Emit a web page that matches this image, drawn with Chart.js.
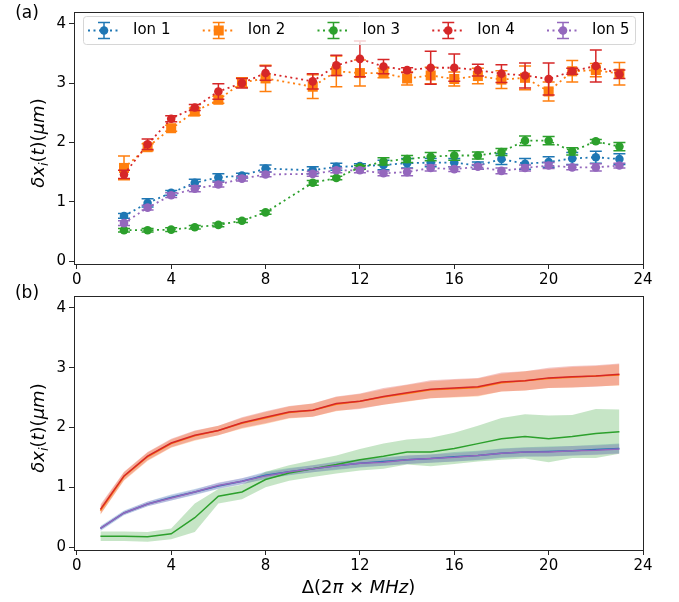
<!DOCTYPE html>
<html>
<head>
<meta charset="utf-8">
<script src="https://cdn.jsdelivr.net/npm/chart.js@4"></script>
<style>
  body { margin: 0; background: #fff; }
  #wrap { position: relative; width: 679px; height: 602px; }
  canvas { position: absolute; left: 0; }
  #chartTop { top: 0; }
  #chartBottom { top: 270px; }
</style>
</head>
<body>
<div id="wrap">
  <canvas id="chartTop" width="679" height="290"></canvas>
  <canvas id="chartBottom" width="679" height="332"></canvas>
</div>
<script>
'use strict';

////////////////////////////
/// data
const ionLabels = ['Ion 1', 'Ion 2', 'Ion 3', 'Ion 4', 'Ion 5'];
const ionColors = ['#1f77b4', '#ff7f0e', '#2ca02c', '#d62728', '#9467bd'];
const xTicks = [0, 4, 8, 12, 16, 20, 24];
const yTicks = [0, 1, 2, 3, 4];

/// (a) measured, with error bars
const measuredX = [2, 3, 4, 5, 6, 7, 8, 10, 11, 12, 13, 14, 15, 16, 17, 18, 19, 20, 21, 22, 23];
const ion1Meas = [0.76, 0.98, 1.15, 1.32, 1.41, 1.44, 1.56, 1.53, 1.59, 1.6, 1.62, 1.65, 1.66, 1.66, 1.61, 1.72, 1.64, 1.67, 1.73, 1.75, 1.72];
const ion1Err = [0.04, 0.07, 0.04, 0.06, 0.06, 0.04, 0.06, 0.06, 0.06, 0.04, 0.08, 0.08, 0.07, 0.07, 0.06, 0.09, 0.09, 0.09, 0.1, 0.1, 0.09];
const ion2Meas = [1.57, 1.92, 2.24, 2.52, 2.72, 3.01, 3.08, 2.94, 3.2, 3.17, 3.17, 3.08, 3.13, 3.07, 3.12, 3.06, 3.09, 2.86, 3.2, 3.22, 3.16];
const ion2Err = [0.2, 0.06, 0.05, 0.06, 0.06, 0.08, 0.22, 0.2, 0.26, 0.22, 0.08, 0.11, 0.14, 0.12, 0.13, 0.15, 0.2, 0.16, 0.18, 0.11, 0.19];
const ion3Meas = [0.52, 0.52, 0.53, 0.57, 0.61, 0.68, 0.82, 1.32, 1.4, 1.58, 1.68, 1.72, 1.76, 1.78, 1.78, 1.84, 2.03, 2.03, 1.85, 2.02, 1.93];
const ion3Err = [0.03, 0.03, 0.03, 0.03, 0.03, 0.03, 0.03, 0.04, 0.03, 0.03, 0.06, 0.06, 0.07, 0.08, 0.06, 0.06, 0.08, 0.07, 0.06, 0.03, 0.07];
const ion4Meas = [1.46, 1.97, 2.4, 2.59, 2.86, 3.0, 3.17, 3.03, 3.3, 3.41, 3.28, 3.22, 3.26, 3.26, 3.22, 3.16, 3.13, 3.07, 3.2, 3.29, 3.15];
const ion4Err = [0.07, 0.09, 0.05, 0.05, 0.13, 0.08, 0.12, 0.13, 0.17, 0.3, 0.12, 0.04, 0.28, 0.23, 0.1, 0.15, 0.21, 0.27, 0.05, 0.27, 0.07];
const ion5Meas = [0.64, 0.9, 1.11, 1.22, 1.29, 1.39, 1.46, 1.47, 1.53, 1.53, 1.48, 1.5, 1.57, 1.55, 1.59, 1.52, 1.57, 1.61, 1.58, 1.58, 1.61];
const ion5Err = [0.04, 0.04, 0.04, 0.05, 0.04, 0.04, 0.04, 0.04, 0.04, 0.04, 0.04, 0.06, 0.05, 0.04, 0.04, 0.05, 0.05, 0.05, 0.04, 0.06, 0.04];

/// (b) simulated, mean with spread
const simX = [1, 2, 3, 4, 5, 6, 7, 8, 9, 10, 11, 12, 13, 14, 15, 16, 17, 18, 19, 20, 21, 22, 23];
const ion1Sim = [0.31, 0.57, 0.72, 0.83, 0.92, 1.02, 1.1, 1.2, 1.26, 1.31, 1.36, 1.4, 1.43, 1.46, 1.48, 1.51, 1.53, 1.57, 1.59, 1.6, 1.61, 1.63, 1.65];
const ion1Spread = [0.04, 0.04, 0.04, 0.05, 0.05, 0.05, 0.05, 0.06, 0.06, 0.06, 0.07, 0.07, 0.07, 0.07, 0.07, 0.08, 0.08, 0.08, 0.08, 0.08, 0.08, 0.08, 0.08];
const ion2Sim = [0.61, 1.18, 1.51, 1.73, 1.86, 1.95, 2.07, 2.16, 2.25, 2.29, 2.39, 2.44, 2.51, 2.57, 2.63, 2.65, 2.67, 2.75, 2.78, 2.82, 2.84, 2.86, 2.88];
const ion2Spread = [0.07, 0.07, 0.07, 0.07, 0.08, 0.08, 0.09, 0.1, 0.1, 0.11, 0.12, 0.12, 0.13, 0.14, 0.14, 0.15, 0.15, 0.15, 0.16, 0.16, 0.17, 0.17, 0.18];
const ion3Sim = [0.18, 0.18, 0.17, 0.22, 0.49, 0.85, 0.92, 1.13, 1.24, 1.31, 1.38, 1.46, 1.52, 1.59, 1.59, 1.65, 1.73, 1.81, 1.85, 1.81, 1.85, 1.9, 1.93];
const ion3Spread = [0.08, 0.08, 0.08, 0.09, 0.24, 0.12, 0.12, 0.13, 0.13, 0.14, 0.15, 0.18, 0.21, 0.21, 0.24, 0.26, 0.3, 0.35, 0.37, 0.39, 0.36, 0.41, 0.37];
const ion4Sim = [0.63, 1.19, 1.52, 1.74, 1.87, 1.95, 2.08, 2.17, 2.26, 2.29, 2.4, 2.44, 2.52, 2.58, 2.64, 2.66, 2.68, 2.76, 2.78, 2.83, 2.85, 2.86, 2.89];
const ion4Spread = [0.08, 0.07, 0.07, 0.07, 0.08, 0.08, 0.09, 0.1, 0.1, 0.11, 0.12, 0.13, 0.14, 0.14, 0.15, 0.15, 0.15, 0.16, 0.16, 0.17, 0.18, 0.18, 0.18];
const ion5Sim = [0.31, 0.57, 0.72, 0.82, 0.92, 1.03, 1.1, 1.19, 1.26, 1.31, 1.36, 1.4, 1.42, 1.46, 1.48, 1.5, 1.53, 1.57, 1.59, 1.59, 1.61, 1.62, 1.64];
const ion5Spread = [0.03, 0.03, 0.04, 0.04, 0.04, 0.05, 0.05, 0.05, 0.05, 0.06, 0.06, 0.06, 0.06, 0.07, 0.07, 0.07, 0.07, 0.07, 0.07, 0.08, 0.08, 0.08, 0.08];

const measured = [ion1Meas, ion2Meas, ion3Meas, ion4Meas, ion5Meas];
const measuredErr = [ion1Err, ion2Err, ion3Err, ion4Err, ion5Err];
const simulated = [ion1Sim, ion2Sim, ion3Sim, ion4Sim, ion5Sim];
const simSpread = [ion1Spread, ion2Spread, ion3Spread, ion4Spread, ion5Spread];

//////////////////////////////////////////////////////
/// helpers
const FONT = "'DejaVu Sans', sans-serif";
const AXIS_COLOR = '#262626';
const TITLE_SIZE = 18;

const withAlpha = function (hex, a) {
  const n = parseInt(hex.slice(1), 16);
  return `rgba(${(n >> 16) & 255}, ${(n >> 8) & 255}, ${n & 255}, ${a})`;
};

const toPoints = (xs, ys) => xs.map((x, k) => ({ x: x, y: ys[k] }));

/// mathtext-ish label: list of [text, italic, subscript]
const drawRich = function (ctx, parts, size, cx, cy, rotate) {
  const fontOf = (p) =>
    `${p[1] ? 'italic ' : ''}${p[2] ? size * 0.7 : size}px ${FONT}`;
  let total = 0;
  parts.forEach((p) => {
    ctx.font = fontOf(p);
    total += ctx.measureText(p[0]).width;
  });
  ctx.save();
  ctx.translate(cx, cy);
  if (rotate) ctx.rotate(-Math.PI / 2);
  ctx.fillStyle = '#000';
  ctx.textBaseline = 'alphabetic';
  ctx.textAlign = 'left';
  let x = -total / 2;
  parts.forEach((p) => {
    ctx.font = fontOf(p);
    ctx.fillText(p[0], x, size * 0.36 + (p[2] ? size * 0.22 : 0));
    x += ctx.measureText(p[0]).width;
  });
  ctx.restore();
};

const yTitleParts = [['δx', true], ['i', true, true], ['(', false], ['t', true], [')(', false], ['μm', true], [')', false]];
const xTitleParts = [['Δ(2', false], ['π', true], [' × ', false], ['MHz', true], [')', false]];

const drawMarker = function (ctx, style, x, y, color) {
  ctx.fillStyle = color;
  ctx.beginPath();
  if (style === 'rect') ctx.rect(x - 5, y - 5, 10, 10);
  else ctx.arc(x, y, 4.3, 0, Math.PI * 2);
  ctx.fill();
};

//////////////////////////////////////////////////////
/// plugins
const errorBarPlugin = {
  id: 'errorBars',
  beforeDatasetDraw(chart, args) {
    const errs = measuredErr[args.index];
    if (!errs) return;
    const ds = chart.data.datasets[args.index];
    const yScale = chart.scales.y;
    const ctx = chart.ctx;
    ctx.save();
    ctx.strokeStyle = ds.borderColor;
    ctx.lineWidth = 1.5;
    args.meta.data.forEach((pt, k) => {
      const v = ds.data[k].y;
      const top = yScale.getPixelForValue(v + errs[k]);
      const bot = yScale.getPixelForValue(v - errs[k]);
      ctx.beginPath();
      ctx.moveTo(pt.x, top);
      ctx.lineTo(pt.x, bot);
      ctx.moveTo(pt.x - 6, top);
      ctx.lineTo(pt.x + 6, top);
      ctx.moveTo(pt.x - 6, bot);
      ctx.lineTo(pt.x + 6, bot);
      ctx.stroke();
    });
    ctx.restore();
  },
};

const decorPlugin = {
  id: 'decor',
  afterDraw(chart, args, opts) {
    const ctx = chart.ctx;
    const a = chart.chartArea;
    // frame
    ctx.save();
    ctx.strokeStyle = AXIS_COLOR;
    ctx.lineWidth = 1;
    ctx.strokeRect(Math.round(a.left) + 0.5, Math.round(a.top) + 0.5,
      Math.round(a.right - a.left), Math.round(a.bottom - a.top));
    ctx.restore();

    // panel tag
    ctx.save();
    ctx.fillStyle = '#000';
    ctx.font = `17px ${FONT}`;
    ctx.textAlign = 'center';
    ctx.textBaseline = 'middle';
    ctx.fillText(opts.tag, 27, opts.tagY);
    ctx.restore();

    drawRich(ctx, yTitleParts, TITLE_SIZE, 38, (a.top + a.bottom) / 2 + 5, true);
    if (opts.xTitle) drawRich(ctx, xTitleParts, TITLE_SIZE, (a.left + a.right) / 2, a.bottom + 37, false);
    if (opts.legend) drawLegend(ctx);
  },
};

const drawLegend = function (ctx) {
  ctx.save();
  ctx.beginPath();
  ctx.roundRect(83.5, 16.5, 552, 28, 3);
  ctx.fillStyle = 'rgba(255,255,255,0.8)';
  ctx.fill();
  ctx.strokeStyle = '#d6d6d6';
  ctx.lineWidth = 1;
  ctx.stroke();
  ionLabels.forEach((label, i) => {
    const cx = 104 + i * 114.75;
    const cy = 30.5;
    const color = ionColors[i];
    ctx.strokeStyle = color;
    ctx.lineWidth = 1.8;
    ctx.setLineDash([2, 3.5]);
    ctx.beginPath();
    ctx.moveTo(cx - 16, cy);
    ctx.lineTo(cx + 16, cy);
    ctx.stroke();
    ctx.setLineDash([]);
    ctx.lineWidth = 1.5;
    ctx.beginPath();
    ctx.moveTo(cx, cy - 8);
    ctx.lineTo(cx, cy + 8);
    ctx.moveTo(cx - 6, cy - 8);
    ctx.lineTo(cx + 6, cy - 8);
    ctx.moveTo(cx - 6, cy + 8);
    ctx.lineTo(cx + 6, cy + 8);
    ctx.stroke();
    drawMarker(ctx, i === 1 ? 'rect' : 'circle', cx, cy, color);
    ctx.fillStyle = '#000';
    ctx.font = `15px ${FONT}`;
    ctx.textBaseline = 'middle';
    ctx.fillText(label, cx + 29, cy);
  });
  ctx.restore();
};

//////////////////////////////////////////////////////
/// shared scales
const makeScales = function (xHeight) {
  const tickFont = { family: FONT, size: 15 };
  return {
    x: {
      type: 'linear',
      min: -0.12,
      max: 24,
      afterBuildTicks: (s) => { s.ticks = xTicks.map((v) => ({ value: v })); },
      afterFit: (s) => { s.height = xHeight; },
      grid: { drawOnChartArea: false, drawTicks: true, tickLength: 5, color: AXIS_COLOR },
      border: { display: false },
      ticks: { font: tickFont, color: '#000', padding: 2, maxRotation: 0 },
    },
    y: {
      type: 'linear',
      min: -0.05,
      max: 4.2,
      afterBuildTicks: (s) => { s.ticks = yTicks.map((v) => ({ value: v })); },
      afterFit: (s) => { s.width = 74; },
      grid: { drawOnChartArea: false, drawTicks: true, tickLength: 5, color: AXIS_COLOR },
      border: { display: false },
      ticks: { font: tickFont, color: '#000', padding: 3 },
    },
  };
};

//////////////////////////////////////////////////////
/// chart (a)
const topDatasets = measured.map((ys, i) => ({
  label: ionLabels[i],
  data: toPoints(measuredX, ys),
  borderColor: ionColors[i],
  backgroundColor: ionColors[i],
  borderWidth: 1.8,
  borderDash: [2, 3.5],
  pointStyle: i === 1 ? 'rect' : 'circle',
  pointRadius: i === 1 ? 7.1 : 4.3,
  pointBorderWidth: 0,
  pointBackgroundColor: ionColors[i],
  tension: 0,
  order: 5 - i,
}));

const chartTop = new Chart(document.getElementById('chartTop'), {
  type: 'line',
  data: { datasets: topDatasets },
  options: {
    responsive: false,
    animation: false,
    events: [],
    layout: { padding: { left: 0, right: 36, top: 8, bottom: 0 } },
    scales: makeScales(26),
    plugins: {
      legend: { display: false },
      tooltip: { enabled: false },
      decor: { tag: '(a)', tagY: 14, legend: true, xTitle: false },
    },
  },
  plugins: [errorBarPlugin, decorPlugin],
});

//////////////////////////////////////////////////////
/// chart (b)
const bottomDatasets = [];
simulated.forEach((ys, i) => {
  const spread = simSpread[i];
  bottomDatasets.push({
    data: toPoints(simX, ys.map((v, k) => v - spread[k])),
    borderWidth: 0,
    pointRadius: 0,
    fill: false,
    order: 10 - i,
  });
  bottomDatasets.push({
    data: toPoints(simX, ys.map((v, k) => v + spread[k])),
    borderWidth: 0,
    pointRadius: 0,
    fill: '-1',
    backgroundColor: withAlpha(ionColors[i], 0.27),
    order: 10 - i,
  });
});
simulated.forEach((ys, i) => {
  bottomDatasets.push({
    label: ionLabels[i],
    data: toPoints(simX, ys),
    borderColor: ionColors[i],
    borderWidth: 1.5,
    pointRadius: 0,
    fill: false,
    tension: 0,
    order: 5 - i,
  });
});

const chartBottom = new Chart(document.getElementById('chartBottom'), {
  type: 'line',
  data: { datasets: bottomDatasets },
  options: {
    responsive: false,
    animation: false,
    events: [],
    layout: { padding: { left: 0, right: 36, top: 26, bottom: 0 } },
    scales: makeScales(52),
    plugins: {
      legend: { display: false },
      tooltip: { enabled: false },
      filler: { propagate: false },
      decor: { tag: '(b)', tagY: 24, legend: false, xTitle: true },
    },
  },
  plugins: [decorPlugin],
});
</script>
</body>
</html>
